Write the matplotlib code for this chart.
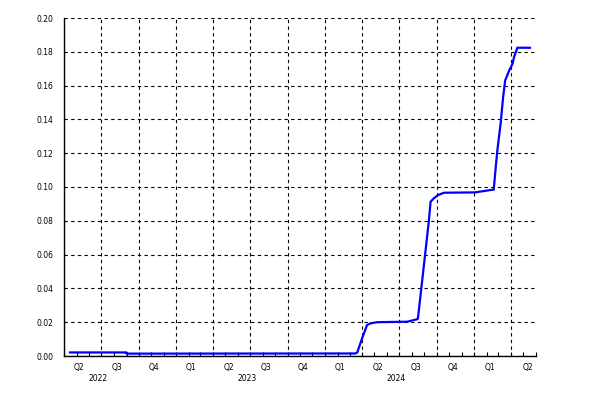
import matplotlib
matplotlib.use("Agg")
import matplotlib.pyplot as plt
import matplotlib.dates as mdates
import matplotlib.transforms as mtransforms
import numpy as np
import datetime as dt

# ---- data ----
dates = ["2022-04-15", "2022-08-31", "2022-09-01", "2024-03-16", "2024-03-20",
         "2024-04-01", "2024-04-13", "2024-04-21", "2024-05-08", "2024-07-21",
         "2024-08-15", "2024-08-16", "2024-09-07", "2024-09-12", "2024-09-16",
         "2024-09-24", "2024-10-05", "2024-10-19", "2025-01-03", "2025-02-18",
         "2025-02-23", "2025-02-27", "2025-03-07", "2025-03-13", "2025-03-18",
         "2025-03-28", "2025-04-05", "2025-04-09", "2025-04-17", "2025-05-18"]
values = [0.0021, 0.0021, 0.0014, 0.0015, 0.0021,
          0.0105, 0.0183, 0.0193, 0.0200, 0.0203,
          0.0218, 0.0223, 0.0696, 0.0805, 0.0913,
          0.0933, 0.0953, 0.0966, 0.0968, 0.0985,
          0.1120, 0.1219, 0.1377, 0.1530, 0.1630,
          0.1690, 0.1728, 0.1770, 0.1824, 0.1824]

quarter_labels = ["Q2", "Q3", "Q4", "Q1", "Q2", "Q3", "Q4", "Q1", "Q2", "Q3", "Q4", "Q1", "Q2"]
quarter_label_dates = ["2022-05-07", "2022-08-09", "2022-11-08", "2023-02-07", "2023-05-09",
                       "2023-08-09", "2023-11-08", "2024-02-07", "2024-05-09", "2024-08-11",
                       "2024-11-10", "2025-02-09", "2025-05-12"]
year_labels = ["2022", "2023", "2024"]
year_label_dates = ["2022-06-24", "2023-06-24", "2024-06-24"]

y_ticks = [0.00, 0.02, 0.04, 0.06, 0.08, 0.10, 0.12, 0.14, 0.16, 0.18, 0.20]

to_d = lambda s: dt.datetime.strptime(s, "%Y-%m-%d")
x = [to_d(d) for d in dates]

fig = plt.figure(figsize=(6, 4), dpi=100)
ax = fig.add_axes([64.3 / 600, 44 / 400, (535.7 - 64.3) / 600, (356 - 18) / 400])

ax.plot(x, values, color="#0000ff", lw=1.6, solid_joinstyle="miter")

ax.set_xlim(dt.datetime(2022, 4, 1), dt.datetime(2025, 6, 1))
ax.set_ylim(0, 0.20)

ax.set_yticks(y_ticks)
ax.set_yticklabels([f"{v:.2f}" for v in y_ticks], fontsize=5.5)
ax.tick_params(axis="y", length=0, pad=8)

ax.xaxis.set_major_locator(mdates.MonthLocator(bymonth=[1, 4, 7, 10]))
ax.xaxis.set_minor_locator(mdates.MonthLocator())
ax.xaxis.set_major_formatter(plt.NullFormatter())
ax.tick_params(axis="x", which="both", direction="in", length=3, width=0.8, color="black")

ax.grid(True, which="major", axis="both", color="black", linestyle=(0, (3, 3)), linewidth=0.8)

for s in ["top", "right"]:
    ax.spines[s].set_visible(False)
for s in ["left", "bottom"]:
    ax.spines[s].set_linewidth(1.0)
    ax.spines[s].set_color("black")

trans = mtransforms.blended_transform_factory(ax.transData, ax.transAxes)
for lab, d in zip(quarter_labels, quarter_label_dates):
    ax.text(mdates.date2num(to_d(d)), -0.033, lab, transform=trans, ha="center", va="center",
            fontsize=5.5)
for lab, d in zip(year_labels, year_label_dates):
    ax.text(mdates.date2num(to_d(d)), -0.068, lab, transform=trans, ha="center", va="center",
            fontsize=5.5)

fig.savefig("out.png", dpi=100)
